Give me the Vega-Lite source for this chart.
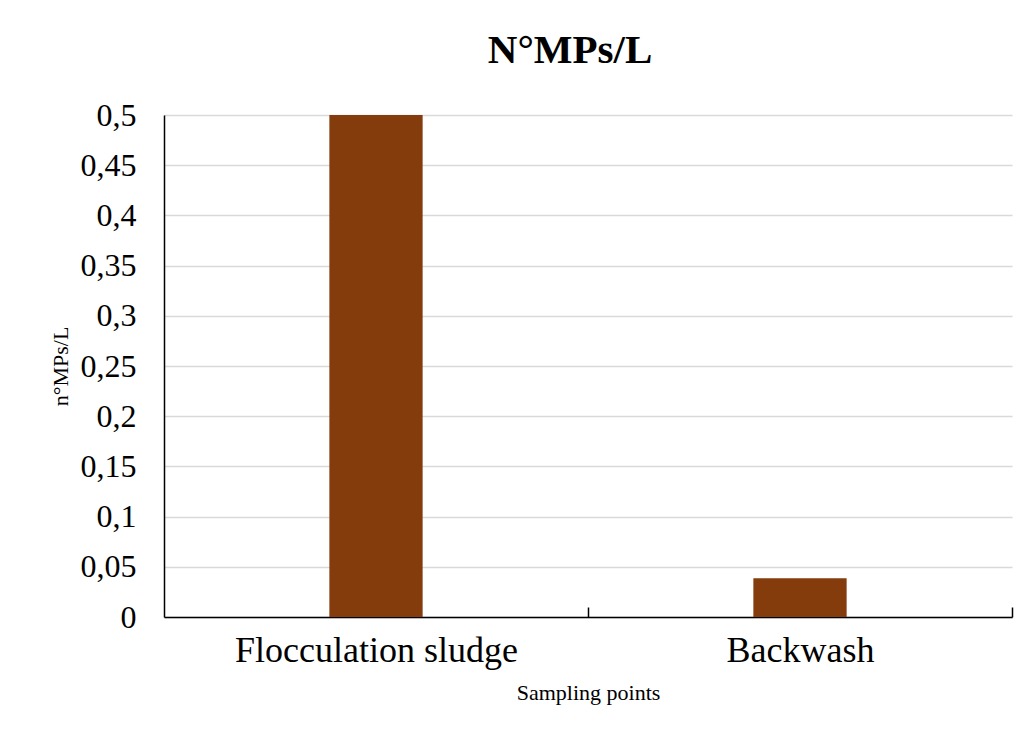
{
  "$schema": "https://vega.github.io/schema/vega-lite/v6.json",
  "width": 848,
  "height": 502,
  "autosize": {"type": "none"},
  "padding": {"left": 164, "top": 115, "right": 17, "bottom": 116},
  "background": "white",
  "config": {
    "locale": {"number": {"decimal": ",", "thousands": ".", "grouping": [3], "currency": ["", " €"]}},
    "view": {"stroke": null},
    "font": "Liberation Serif"
  },
  "title": {
    "text": "N°MPs/L",
    "font": "Liberation Serif",
    "fontSize": 41,
    "fontWeight": "bold",
    "color": "#000000",
    "anchor": "middle",
    "dx": -18,
    "baseline": "alphabetic",
    "offset": -5
  },
  "data": {
    "values": [
      {"point": "Flocculation sludge", "mps": 0.5},
      {"point": "Backwash", "mps": 0.0385}
    ]
  },
  "mark": {"type": "bar", "color": "#843C0C"},
  "encoding": {
    "x": {
      "field": "point",
      "type": "nominal",
      "sort": null,
      "title": "Sampling points",
      "scale": {"paddingInner": 0.78, "paddingOuter": 0.39},
      "axis": {
        "labelAngle": 0,
        "labelLimit": 0,
        "labelFont": "Liberation Serif",
        "labelFontSize": 36,
        "labelColor": "#000000",
        "labelPadding": 26,
        "tickOffset": 212,
        "labelOffset": -212,
        "tickSize": -10,
        "tickColor": "#000000",
        "tickWidth": 1.5,
        "domainColor": "#000000",
        "domainWidth": 1.5,
        "titleFont": "Liberation Serif",
        "titleFontSize": 22,
        "titleFontWeight": "normal",
        "titleColor": "#000000",
        "titlePadding": 14
      }
    },
    "y": {
      "field": "mps",
      "type": "quantitative",
      "title": "n°MPs/L",
      "scale": {"domain": [0, 0.5], "nice": false},
      "axis": {
        "values": [0, 0.05, 0.1, 0.15, 0.2, 0.25, 0.3, 0.35, 0.4, 0.45, 0.5],
        "format": ".2~f",
        "ticks": false,
        "labelFont": "Liberation Serif",
        "labelFontSize": 32,
        "labelColor": "#000000",
        "labelPadding": 28,
        "domainColor": "#000000",
        "domainWidth": 1.5,
        "gridColor": "#d9d9d9",
        "gridWidth": 1.5,
        "titleFont": "Liberation Serif",
        "titleFontSize": 22,
        "titleFontWeight": "normal",
        "titleColor": "#000000",
        "titlePadding": 8
      }
    }
  }
}
